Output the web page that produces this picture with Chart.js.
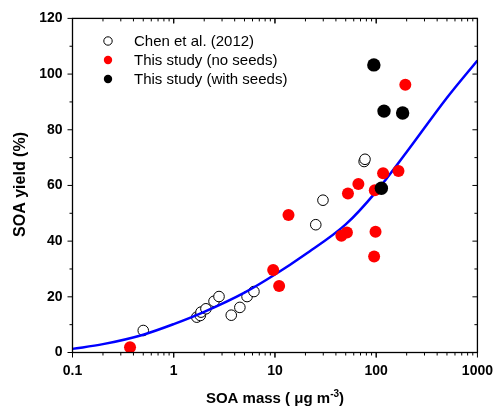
<!DOCTYPE html>
<html>
<head>
    <style>
        body {
            margin: 0;
            padding: 0;
            background: #fff;
        }

        .container {
            width: 503px;
            height: 407px;
        }
    </style>
    <title>SOA yield vs SOA mass</title>
    <script src="https://cdn.jsdelivr.net/npm/chart.js@4.4.1/dist/chart.umd.min.js"></script>
</head>
<body>
    <div class="container">
        <canvas id="chart" width="503" height="407"></canvas>
    </div>

  <script>
    // Chen et al. (2012), open circles
    const chenMass = [0.5, 1.69, 1.83, 1.86, 2.08, 2.5, 2.8, 3.7, 4.5, 5.3, 6.2, 25.3, 29.8, 76, 77.5];
    const chenYield = [7.9, 12.7, 13.3, 14.5, 15.7, 18.4, 20.1, 13.4, 16.2, 20.1, 21.9, 45.9, 54.7, 68.6, 69.4];

    // this study, no seeds (red)
    const noSeedMass = [0.37, 9.6, 11.0, 13.6, 45.3, 51.4, 52.6, 66.7, 96.9, 98.5, 95.4, 117, 166, 194];
    const noSeedYield = [1.9, 29.6, 23.9, 49.4, 41.9, 43.1, 57.1, 60.5, 58.3, 43.4, 34.5, 64.4, 65.2, 96.2];

    // this study, with seeds (black)
    const seedMass = [94.8, 119.4, 182.5, 112.5];
    const seedYield = [103.3, 86.7, 86.0, 59.0];

    // fitted curve
    const fitMass = [0.1, 0.2, 0.5, 1, 2, 5, 10, 20, 50, 100, 200, 500, 1000];
    const fitYield = [1.3, 3.0, 6.4, 10.2, 14.6, 21.5, 28.0, 35.3, 46.0, 57.8, 72.0, 91.5, 104.9];

    const xMajor = [0.1, 1, 10, 100, 1000];
    const yMajor = [0, 20, 40, 60, 80, 100, 120];

    const legendItems = ['Chen et al. (2012)', 'This study (no seeds)', 'This study (with seeds)'];

    function pts(xs, ys) {
      return xs.map((x, i) => ({ x: x, y: ys[i] }));
    }

    // frame, tick marks, legend and axis titles
    const decorations = {
      id: 'decorations',
      afterDraw(chart) {
        const ctx = chart.ctx;
        const a = chart.chartArea;
        const xs = chart.scales.x;
        const ys = chart.scales.y;
        ctx.save();
        ctx.strokeStyle = '#000';
        ctx.lineWidth = 1.3;
        ctx.strokeRect(a.left, a.top, a.right - a.left, a.bottom - a.top);

        ctx.lineWidth = 1;
        ctx.beginPath();
        for (let d = 0.1; d < 1000; d *= 10) {
          for (let k = 1; k <= 10; k++) {
            const v = Math.round(d * k * 1000) / 1000;
            const px = xs.getPixelForValue(v);
            const len = (k === 1 || k === 10) ? 5 : 3;
            ctx.moveTo(px, a.bottom); ctx.lineTo(px, a.bottom + len);
            ctx.moveTo(px, a.top); ctx.lineTo(px, a.top + len);
          }
        }
        for (let v = 0; v <= 120; v += 10) {
          const py = ys.getPixelForValue(v);
          const len = v % 20 === 0 ? 5 : 3;
          ctx.moveTo(a.left, py); ctx.lineTo(a.left - len, py);
          ctx.moveTo(a.right, py); ctx.lineTo(a.right - len, py);
        }
        ctx.stroke();

        // legend
        const ds = chart.data.datasets;
        ctx.font = '15px "Liberation Sans", Arial, sans-serif';
        ctx.textBaseline = 'middle';
        ctx.textAlign = 'left';
        legendItems.forEach((label, i) => {
          const y = 41 + i * 19;
          ctx.beginPath();
          ctx.arc(108, y, 4.2, 0, Math.PI * 2);
          ctx.fillStyle = ds[i].backgroundColor;
          ctx.fill();
          ctx.strokeStyle = '#000';
          ctx.lineWidth = 1;
          if (i === 0) ctx.stroke();
          ctx.fillStyle = '#000';
          ctx.fillText(label, 134, y + 1);
        });

        // axis titles
        ctx.font = 'bold 16px "Liberation Sans", Arial, sans-serif';
        ctx.save();
        ctx.translate(21, (a.top + a.bottom) / 2 - 1);
        ctx.rotate(-Math.PI / 2);
        ctx.textAlign = 'center';
        ctx.fillText('SOA yield (%)', 0, 0);
        ctx.restore();

        const main = 'SOA mass ( \u03bcg m';
        const sup = '-3';
        const tail = ')';
        ctx.textBaseline = 'alphabetic';
        ctx.font = 'bold 15px "Liberation Sans", Arial, sans-serif';
        const wMain = ctx.measureText(main).width;
        const wTail = ctx.measureText(tail).width;
        ctx.font = 'bold 10px "Liberation Sans", Arial, sans-serif';
        const wSup = ctx.measureText(sup).width;
        let x0 = (a.left + a.right) / 2 - (wMain + wSup + wTail) / 2;
        const base = 403;
        ctx.font = 'bold 15px "Liberation Sans", Arial, sans-serif';
        ctx.fillText(main, x0, base);
        ctx.font = 'bold 10px "Liberation Sans", Arial, sans-serif';
        ctx.fillText(sup, x0 + wMain, base - 6);
        ctx.font = 'bold 15px "Liberation Sans", Arial, sans-serif';
        ctx.fillText(tail, x0 + wMain + wSup, base);
        ctx.restore();
      }
    };

    const ctx = document.getElementById('chart').getContext('2d');
    new Chart(ctx, {
      type: 'scatter',
      data: {
        datasets: [
          {
            label: legendItems[0],
            data: pts(chenMass, chenYield),
            backgroundColor: '#ffffff',
            borderColor: '#000000',
            borderWidth: 1,
            pointRadius: 5.3,
            order: 3
          },
          {
            label: legendItems[1],
            data: pts(noSeedMass, noSeedYield),
            backgroundColor: '#ff0000',
            borderColor: '#ff0000',
            borderWidth: 0,
            pointRadius: 6,
            order: 1
          },
          {
            label: legendItems[2],
            data: pts(seedMass, seedYield),
            backgroundColor: '#000000',
            borderColor: '#000000',
            borderWidth: 0,
            pointRadius: 6.7,
            order: 0
          },
          {
            label: 'fit',
            data: pts(fitMass, fitYield),
            showLine: true,
            borderColor: '#0000ff',
            borderWidth: 2.5,
            pointRadius: 0,
            cubicInterpolationMode: 'monotone',
            order: 2
          }
        ]
      },
      options: {
        responsive: false,
        animation: false,
        layout: {
          padding: { left: 0, right: 18.5, top: 17.5, bottom: 0 }
        },
        plugins: {
          legend: { display: false },
          tooltip: { enabled: false }
        },
        scales: {
          x: {
            type: 'logarithmic',
            min: 0.1,
            max: 1000,
            grid: { display: false, drawTicks: false },
            border: { display: false },
            afterBuildTicks(scale) {
              scale.ticks = xMajor.map(v => ({ value: v }));
            },
            afterFit(scale) {
              scale.height = 54.5;
            },
            ticks: {
              autoSkip: false,
              maxRotation: 0,
              padding: 10,
              color: '#000',
              font: { family: '"Liberation Sans", Arial, sans-serif', size: 14, weight: 'bold' },
              callback: v => String(v)
            }
          },
          y: {
            min: 0,
            max: 120,
            grid: { display: false, drawTicks: false },
            border: { display: false },
            afterBuildTicks(scale) {
              scale.ticks = yMajor.map(v => ({ value: v }));
            },
            afterFit(scale) {
              scale.width = 72.5;
            },
            ticks: {
              padding: 10,
              color: '#000',
              font: { family: '"Liberation Sans", Arial, sans-serif', size: 14, weight: 'bold' }
            }
          }
        }
      },
      plugins: [decorations]
    });
  </script>
</body>
</html>
